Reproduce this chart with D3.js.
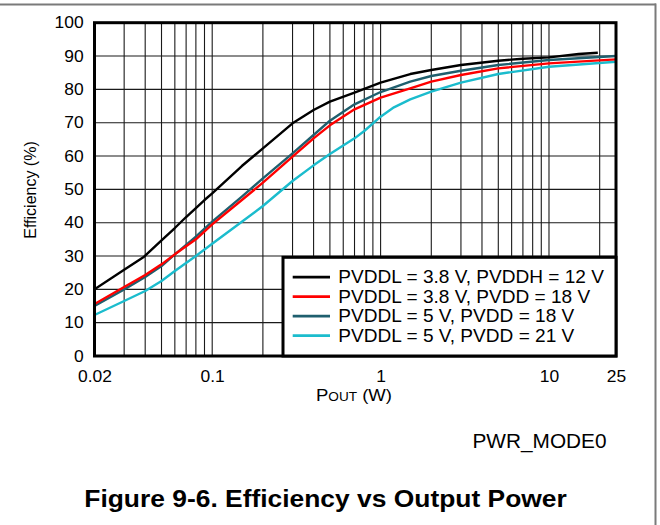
<!DOCTYPE html>
<html>
<head>
<meta charset="utf-8">
<script src="https://cdn.jsdelivr.net/npm/d3@7"></script>
<style>
  html, body { margin: 0; padding: 0; background: #fff; }
  svg { display: block; }
  text { font-family: Arial, "Liberation Sans", Helvetica, sans-serif; fill: #000; }
</style>
</head>
<body>
<svg id="chart" width="660" height="525"></svg>
<script>
// ---- Data: efficiency (%) versus output power (W) ----
const seriesNames = [
  "PVDDL = 3.8 V, PVDDH = 12 V",
  "PVDDL = 3.8 V, PVDD = 18 V",
  "PVDDL = 5 V, PVDD = 18 V",
  "PVDDL = 5 V, PVDD = 21 V"
];

const pout38v12 = [0.02, 0.03, 0.039, 0.05, 0.06, 0.07, 0.08, 0.09, 0.1, 0.15, 0.2, 0.3, 0.4, 0.5, 0.7, 1, 1.5, 2, 3, 5, 7, 10, 15, 19.5];
const eff38v12  = [20, 25.9, 29.6, 34.7, 38.4, 41.7, 44.4, 46.8, 48.8, 57, 62.3, 69.8, 73.8, 76.3, 79, 82, 84.6, 85.8, 87.3, 88.6, 89.2, 89.6, 90.6, 91];

const pout38v18 = [0.02, 0.03, 0.04, 0.05, 0.06, 0.08, 0.1, 0.15, 0.2, 0.3, 0.4, 0.5, 0.7, 1, 1.5, 2, 3, 5, 10, 25];
const eff38v18  = [15.6, 20.7, 24.3, 27.5, 30.5, 35, 39.5, 46.8, 52, 59.8, 65.3, 69.2, 74, 77.5, 80.3, 82.3, 84.3, 86.3, 87.8, 89];

const pout5v18 = [0.02, 0.03, 0.04, 0.05, 0.06, 0.08, 0.1, 0.15, 0.2, 0.3, 0.4, 0.5, 0.7, 1, 1.5, 2, 3, 5, 10, 25];
const eff5v18  = [15, 20, 23.7, 27, 30.5, 35.8, 40.3, 47.8, 53.3, 60.8, 66.3, 70.6, 75.5, 79.2, 82.3, 84, 85.6, 87.3, 88.8, 90];

const pout5v21 = [0.02, 0.03, 0.04, 0.05, 0.06, 0.08, 0.1, 0.15, 0.2, 0.3, 0.4, 0.5, 0.7, 0.8, 1, 1.2, 1.5, 2, 3, 5, 10, 25];
const eff5v21  = [12.3, 16.5, 19.5, 22.5, 25.5, 30, 33.7, 40.3, 45, 52.5, 57.2, 60.6, 65.3, 67.5, 71.8, 74.6, 77, 79.3, 82, 84.6, 86.8, 88.3];

const xTickValues = [0.02, 0.1, 1, 10, 25];
const xTickLabels = ["0.02", "0.1", "1", "10", "25"];
const yTickValues = [0, 10, 20, 30, 40, 50, 60, 70, 80, 90, 100];

// ---- Styling ----
const seriesColors = ["#000000", "#ff0000", "#1f5f6e", "#1bbccd"];
const SX = 1.09;   // horizontal text stretch

const W = 660, H = 525;
const plot = { left: 94.5, right: 616, top: 22.7, bottom: 356 };

const x = d3.scaleLog().domain([0.02, 25]).range([plot.left, plot.right]);
const y = d3.scaleLinear().domain([0, 100]).range([plot.bottom, plot.top]);

const svg = d3.select("#chart");
svg.append("rect").attr("width", W).attr("height", H).attr("fill", "#fff");

// page frame
svg.append("line").attr("x1", 0).attr("x2", 656).attr("y1", 4.5).attr("y2", 4.5)
  .attr("stroke", "#7a7a7a").attr("stroke-width", 2);
svg.append("line").attr("x1", 655.5).attr("x2", 655.5).attr("y1", 3.5).attr("y2", H)
  .attr("stroke", "#7a7a7a").attr("stroke-width", 2);

// grid
const grid = svg.append("g").attr("stroke", "#1a1a1a").attr("stroke-width", 1.1);
grid.selectAll("line.v").data(x.ticks()).join("line")
  .attr("class", "v")
  .attr("x1", d => x(d)).attr("x2", d => x(d))
  .attr("y1", plot.top).attr("y2", plot.bottom);
grid.selectAll("line.h").data(y.ticks(10)).join("line")
  .attr("class", "h")
  .attr("x1", plot.left).attr("x2", plot.right)
  .attr("y1", d => y(d)).attr("y2", d => y(d));

// curves
svg.append("clipPath").attr("id", "plotClip").append("rect")
  .attr("x", plot.left).attr("y", plot.top)
  .attr("width", plot.right - plot.left).attr("height", plot.bottom - plot.top);

const series = [
  { p: pout38v12, e: eff38v12 },
  { p: pout38v18, e: eff38v18 },
  { p: pout5v18,  e: eff5v18  },
  { p: pout5v21,  e: eff5v21  }
];
const line = d3.line().x(d => x(d[0])).y(d => y(d[1]));
const curves = svg.append("g").attr("clip-path", "url(#plotClip)");
// draw in reverse so the black curve sits on top
[3, 2, 1, 0].forEach(i => {
  const pts = series[i].p.map((p, k) => [p, series[i].e[k]]);
  curves.append("path").datum(pts)
    .attr("d", line)
    .attr("fill", "none")
    .attr("stroke", seriesColors[i])
    .attr("stroke-width", 2.4)
    .attr("stroke-linejoin", "round");
});

// axes
const xAxis = d3.axisBottom(x)
  .tickValues(xTickValues)
  .tickFormat((d, i) => xTickLabels[i])
  .tickSize(0).tickPadding(15);
const gx = svg.append("g").attr("transform", `translate(0,${plot.bottom})`).call(xAxis);
gx.select(".domain").remove();
gx.selectAll("text")
  .attr("font-family", "Arial, 'Liberation Sans', sans-serif")
  .attr("font-size", 16).attr("fill", "#000")
  .attr("transform", `scale(${SX},1)`);

const yAxis = d3.axisLeft(y).tickValues(yTickValues).tickSize(0).tickPadding(10);
const gy = svg.append("g").attr("transform", `translate(${plot.left},0)`).call(yAxis);
gy.select(".domain").remove();
gy.selectAll("text")
  .attr("font-family", "Arial, 'Liberation Sans', sans-serif")
  .attr("font-size", 16).attr("fill", "#000")
  .attr("transform", `scale(${SX},1)`);

// plot border
svg.append("rect")
  .attr("x", plot.left).attr("y", plot.top)
  .attr("width", plot.right - plot.left).attr("height", plot.bottom - plot.top)
  .attr("fill", "none").attr("stroke", "#000").attr("stroke-width", 3);

// legend
const legend = { left: 283, top: 257.3, firstBaseline: 283.3, rowGap: 19.5 };
svg.append("rect")
  .attr("x", legend.left).attr("y", legend.top)
  .attr("width", plot.right - legend.left).attr("height", plot.bottom - legend.top)
  .attr("fill", "#fff").attr("stroke", "#000").attr("stroke-width", 3);
seriesNames.forEach((name, i) => {
  const base = legend.firstBaseline + i * legend.rowGap;
  svg.append("line")
    .attr("x1", 292.7).attr("x2", 330)
    .attr("y1", base - 6.2).attr("y2", base - 6.2)
    .attr("stroke", seriesColors[i]).attr("stroke-width", 2.6);
  svg.append("text")
    .attr("transform", `translate(338.3,${base}) scale(${SX},1)`)
    .attr("font-size", 17.5)
    .text(name);
});

// axis titles
const xTitle = svg.append("text")
  .attr("transform", `translate(354,401) scale(${SX},1)`)
  .attr("text-anchor", "middle").attr("font-size", 17);
xTitle.append("tspan").text("P");
xTitle.append("tspan").attr("font-size", 12.5).text("OUT");
xTitle.append("tspan").text(" (W)");

svg.append("text")
  .attr("transform", "translate(36,190) rotate(-90)")
  .attr("text-anchor", "middle").attr("font-size", 16)
  .text("Efficiency (%)");

// mode note and figure caption
svg.append("text")
  .attr("transform", "translate(539.5,448) scale(1.04,1)")
  .attr("text-anchor", "middle").attr("font-size", 20)
  .text("PWR_MODE0");

svg.append("text")
  .attr("transform", `translate(325.5,507) scale(1.1,1)`)
  .attr("text-anchor", "middle").attr("font-size", 24).attr("font-weight", "bold")
  .text("Figure 9-6. Efficiency vs Output Power");
</script>
</body>
</html>
